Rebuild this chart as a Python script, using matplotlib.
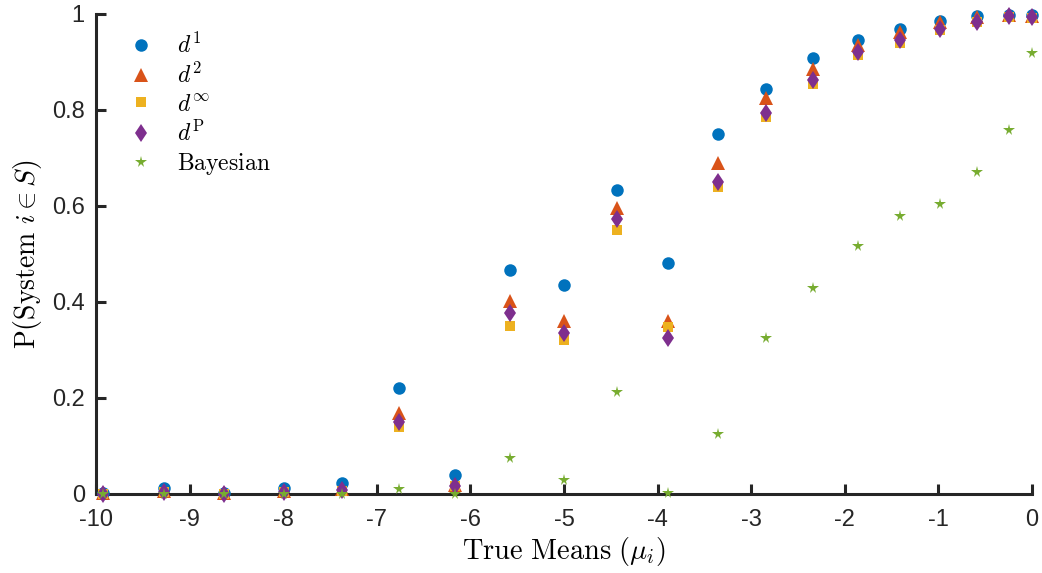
import numpy as np
import matplotlib.pyplot as plt

plt.rcParams['mathtext.fontset'] = 'cm'
plt.rcParams['font.family'] = ['Liberation Sans', 'DejaVu Sans']

# sample true means (x positions of the systems)
means = [-9.93, -9.275, -8.634, -7.993, -7.374, -6.765, -6.167, -5.580, -5.003, -4.437,
         -3.893, -3.359, -2.846, -2.344, -1.864, -1.411, -0.983, -0.588, -0.241, 0.0]

p_d1 = [0.003, 0.012, 0.002, 0.012, 0.022, 0.221, 0.040, 0.467, 0.435, 0.633,
        0.481, 0.750, 0.844, 0.908, 0.945, 0.968, 0.985, 0.995, 0.998, 0.998]
p_d2 = [0.002, 0.006, 0.002, 0.006, 0.010, 0.169, 0.019, 0.403, 0.360, 0.595,
        0.360, 0.689, 0.824, 0.885, 0.935, 0.963, 0.983, 0.994, 0.998, 0.996]
p_dinf = [0.001, 0.004, 0.001, 0.004, 0.007, 0.140, 0.016, 0.351, 0.321, 0.551,
          0.347, 0.639, 0.785, 0.854, 0.915, 0.940, 0.966, 0.983, 0.994, 0.991]
p_dP = [0.001, 0.005, 0.001, 0.005, 0.008, 0.151, 0.017, 0.378, 0.335, 0.573,
        0.324, 0.649, 0.794, 0.863, 0.921, 0.946, 0.968, 0.984, 0.996, 0.993]
p_bayes = [0.0, 0.0, 0.0, 0.0, 0.001, 0.010, 0.0, 0.076, 0.029, 0.212,
           0.003, 0.126, 0.324, 0.429, 0.517, 0.580, 0.604, 0.670, 0.758, 0.918]

labels = [r'$d^1$', r'$d^2$', r'$d^\infty$', r'$d^{\mathrm{P}}$', r'$\mathrm{Bayesian}$']
colors = ['#0072BD', '#D95319', '#EDB120', '#7E2F8E', '#77AC30']
markers = ['o', '^', 's', 'd', '*']
msizes = [9, 9.5, 6.5, 9.5, 8.5]

fig = plt.figure(figsize=(10.42, 5.73), dpi=100)
ax = fig.add_axes([0.0921, 0.1379, 0.8983, 0.8377])

series = [p_d1, p_d2, p_dinf, p_dP, p_bayes]
for ys, lab, c, m, ms in zip(series, labels, colors, markers, msizes):
    ax.plot(means, ys, linestyle='none', marker=m, color=c, ms=ms, mew=0,
            label=lab, clip_on=False, zorder=3)

ax.set_xlim(-10, 0)
ax.set_ylim(0, 1)
ax.set_xticks(np.arange(-10, 1, 1))
ax.set_xticklabels([str(v) for v in range(-10, 1)])
ax.set_yticks([0, 0.2, 0.4, 0.6, 0.8, 1])
ax.set_yticklabels(['0', '0.2', '0.4', '0.6', '0.8', '1'])

for s in ['top', 'right']:
    ax.spines[s].set_visible(False)
for s in ['left', 'bottom']:
    ax.spines[s].set_linewidth(2.2)
    ax.spines[s].set_color('#262626')
ax.tick_params(direction='in', length=7, width=2.2, color='#262626',
               labelsize=17, labelcolor='#262626')
ax.tick_params(axis='x', pad=11)
ax.tick_params(axis='y', pad=8)

ax.set_xlabel(r'$\mathrm{True\ Means}\ (\mu_i)$', fontsize=20.5, labelpad=3)
ax.set_ylabel(r'$\mathrm{P}(\mathrm{System}\ i \in S)$', fontsize=20, labelpad=6)

leg = ax.legend(loc='upper left', bbox_to_anchor=(0.01, 0.995), frameon=False,
                fontsize=17, handletextpad=0.75, labelspacing=0.22, borderaxespad=0.3,
                handlelength=1.6)

fig.savefig('out.png', dpi=100)
